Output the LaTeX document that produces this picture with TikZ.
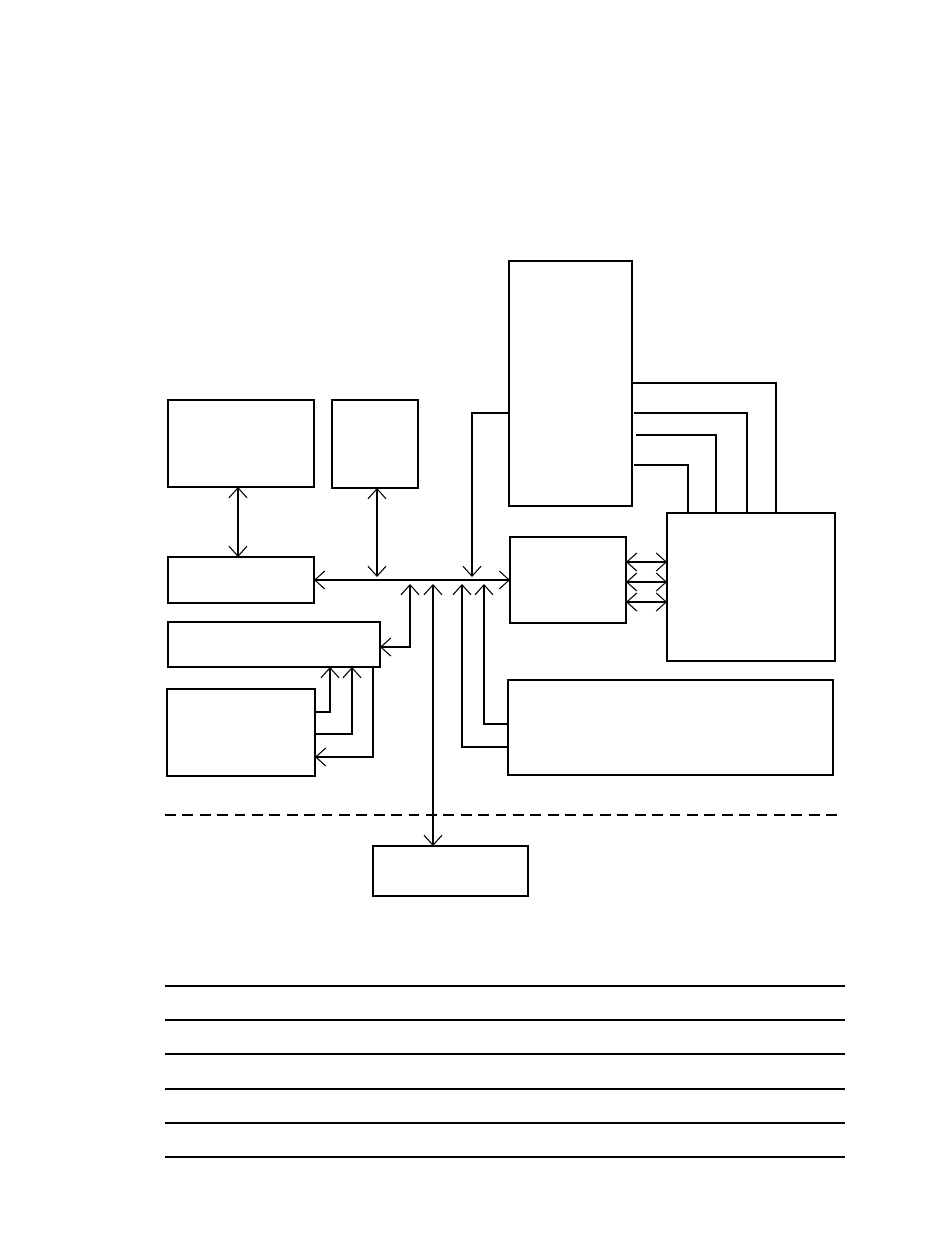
\documentclass[tikz,border=0pt]{standalone}
\usepackage{tikz}
\usetikzlibrary{arrows.meta,fit,calc}
\tikzset{
  blk/.style={draw, line width=0.6pt, inner sep=0pt, outer sep=0pt},
  wire/.style={line width=0.6pt},
  arr/.style={-{Straight Barb[length=2mm,width=3.6mm]}},
  darr/.style={{Straight Barb[length=2mm,width=3.6mm]}-{Straight Barb[length=2mm,width=3.6mm]}},
  sep/.style={line width=1.1pt, dash pattern=on 6.2pt off 3.7pt}
}

\begin{document}
\begin{tikzpicture}[x=0.2mm, y=-0.2mm]
        \useasboundingbox (0,0) rectangle (950,1260);

        % blocks
        \node[blk, fit={(168,400) (314,487)}] (mem) {};
        \node[blk, fit={(332,400) (418,488)}] (disp) {};
        \node[blk, fit={(509,261) (632,506)}] (cpu) {};
        \node[blk, fit={(168,557) (314,603)}] (ctl) {};
        \node[blk, fit={(168,622) (380,667)}] (mux) {};
        \node[blk, fit={(167,689) (315,776)}] (kbd) {};
        \node[blk, fit={(510,537) (626,623)}] (io) {};
        \node[blk, fit={(667,513) (835,661)}] (gfx) {};
        \node[blk, fit={(508,680) (833,775)}] (ser) {};
        \node[blk, fit={(373,846) (528,896)}] (ext) {};

        % taps on the bus
        \coordinate (tapB)  at (377,577);
        \coordinate (tapC)  at (472,577);
        \coordinate (tapE)  at (410,584);
        \coordinate (tapJ)  at (433,584);
        \coordinate (tapI1) at (462,584);
        \coordinate (tapI2) at (484,584);

        % bus
        \draw[wire, darr] (ctl.east) -- (io.west);
        \draw[wire, darr] (mem.south -| 238,0) -- (ctl.north -| 238,0);
        \draw[wire, darr] (disp.south -| tapB) -- (tapB);
        \draw[wire, arr] (cpu.west |- 0,413) -| (tapC);
        \draw[wire, darr] (tapE) |- (mux.east |- 0,647);
        \draw[wire, darr] (tapJ) -- (ext.north -| tapJ);
        \draw[wire, arr] (ser.west |- 0,747) -| (tapI1);
        \draw[wire, arr] (ser.west |- 0,724) -| (tapI2);

        % keyboard lines
        \draw[wire, arr] (kbd.east |- 0,712) -| (mux.south -| 330,0);
        \draw[wire, arr] (kbd.east |- 0,734) -| (mux.south -| 352,0);
        \draw[wire, arr] (mux.south -| 373,0) |- (kbd.east |- 0,757);

        % io <-> gfx
        \draw[wire, darr] (io.east |- 0,562) -- (gfx.west |- 0,562);
        \draw[wire, darr] (io.east |- 0,582) -- (gfx.west |- 0,582);
        \draw[wire, darr] (io.east |- 0,602) -- (gfx.west |- 0,602);

        % cpu -> gfx
        \draw[wire] (cpu.east |- 0,383) -| (gfx.north -| 776,0);
        \draw[wire] ($(cpu.east |- 0,413)+(2,0)$) -| (gfx.north -| 747,0);
        \draw[wire] ($(cpu.east |- 0,435)+(4,0)$) -| (gfx.north -| 716,0);
        \draw[wire] ($(cpu.east |- 0,465)+(2,0)$) -| (gfx.north -| 688,0);

        % boundary
        \coordinate (sepL) at (165,815);
        \coordinate (sepR) at (838,815);
        \draw[sep] (sepL) -- (sepR);

        % rules
        \draw[wire] (165,986) -- (845,986);
        \draw[wire] (165,1020) -- (845,1020);
        \draw[wire] (165,1054) -- (845,1054);
        \draw[wire] (165,1089) -- (845,1089);
        \draw[wire] (165,1123) -- (845,1123);
        \draw[wire] (165,1157) -- (845,1157);
      \end{tikzpicture}
\end{document}
